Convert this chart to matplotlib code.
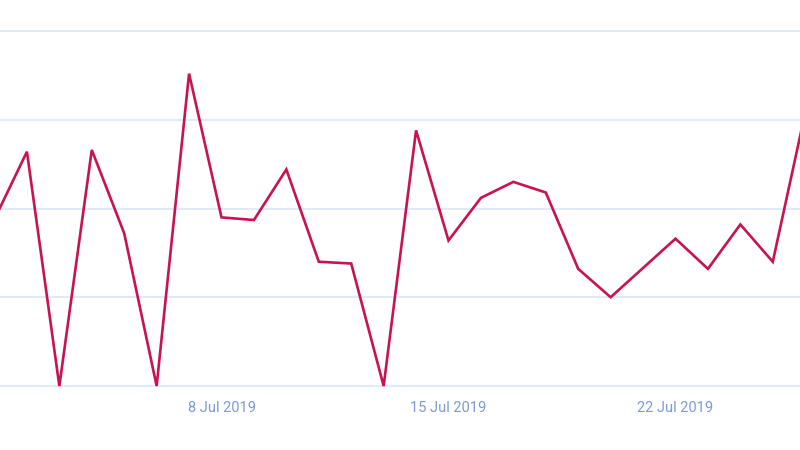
import numpy as np
import pandas as pd
import matplotlib.pyplot as plt
import matplotlib.dates as mdates

# Daily values, 1 Jul 2019 .. 26 Jul 2019
dates = pd.date_range('2019-07-01', '2019-07-26', freq='D')
values = [9.4, 13.2, 0.0, 13.3, 8.6, 0.0, 17.6, 9.5, 9.35, 12.2,
          7.0, 6.9, 0.0, 14.4, 8.2, 10.6, 11.5, 10.9, 6.6, 5.0,
          6.65, 8.3, 6.6, 9.1, 7.0, 15.4]
tick_dates = pd.to_datetime(['2019-07-08', '2019-07-15', '2019-07-22'])
tick_labels = ['8 Jul 2019', '15 Jul 2019', '22 Jul 2019']
grid_values = [0, 5, 10, 15, 20]

fig = plt.figure(figsize=(8, 4.5), dpi=100)
ax = fig.add_axes([0, 50 / 450, 1, 380 / 450])

ax.plot(dates, values, color='#c9134f', linewidth=1.9, solid_joinstyle='miter',
        zorder=3)

# horizontal grid
for g in grid_values:
    ax.axhline(g, color='#e2eafa', linewidth=1.5, zorder=1)

# x range: 1 Jul sits ~5.5 px left of the canvas, 32.43 px per day
day0 = mdates.date2num(dates[0])
px_per_day = 227 / 7
ax.set_xlim(day0 + 5.5 / px_per_day, day0 + 805.5 / px_per_day)
px_per_unit = 355 / 20
ax.set_ylim(-14 / px_per_unit, 20 + 11 / px_per_unit)

ax.set_xticks(tick_dates)
ax.set_xticklabels(tick_labels)
ax.set_yticks([])
ax.tick_params(axis='x', length=0, pad=1, labelsize=10.5, labelcolor='#7d9bd0')
for lbl in ax.get_xticklabels():
    lbl.set_family(['Roboto', 'DejaVu Sans'])

for s in ax.spines.values():
    s.set_visible(False)

fig.savefig('out.png', dpi=100)
